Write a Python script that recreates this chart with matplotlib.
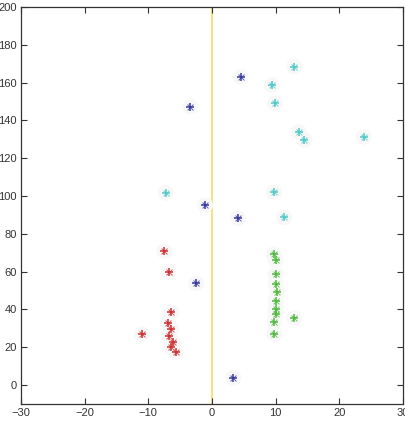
import matplotlib
matplotlib.use("Agg")
import matplotlib.pyplot as plt

red_x = [-7.5, -6.8, -6.4, -6.9, -6.4, -11.05, -6.75, -6.1, -6.4, -5.7]
red_y = [71.0, 59.9, 38.7, 33.1, 29.7, 26.9, 26.0, 22.8, 20.1, 17.7]

blue_x = [-3.4, 4.55, -1.1, 4.1, -2.5, 3.35]
blue_y = [147.3, 162.9, 95.1, 88.3, 53.9, 3.9]

cyan_x = [12.9, 9.4, 9.9, 13.6, 14.5, 23.8, -7.3, 9.7, 11.35]
cyan_y = [168.5, 158.7, 149.1, 133.9, 129.7, 131.3, 101.7, 101.9, 88.7]

green_x = [9.7, 10.0, 10.0, 10.0, 10.25, 10.0, 10.0, 10.0, 12.9, 9.8, 9.8]
green_y = [69.1, 66.1, 58.7, 53.4, 49.5, 44.5, 40.0, 37.6, 35.5, 33.2, 27.2]

line_x = [0, 0]
line_y = [-10, 200]

xticks = [-30, -20, -10, 0, 10, 20, 30]
yticks = [0, 20, 40, 60, 80, 100, 120, 140, 160, 180, 200]

plt.rcParams['font.family'] = ['Liberation Sans', 'DejaVu Sans']

fig = plt.figure(figsize=(4.06, 4.26), dpi=100)
ax = fig.add_axes([21/406, 22/426, 382/406, 397/426])

ax.plot(line_x, line_y, color='#f0e060', lw=1.2, zorder=1)

series = [
    (red_x, red_y, '#cc3030'),
    (blue_x, blue_y, '#3838a0'),
    (cyan_x, cyan_y, '#50c8c8'),
    (green_x, green_y, '#50b840'),
]
for xs, ys, c in series:
    ax.scatter(xs, ys, s=130, color='#f8f8f8', edgecolors='none', zorder=2)
    ax.scatter(xs, ys, s=40, marker='+', color=c, linewidths=1.1, zorder=3)
    ax.scatter(xs, ys, s=18, marker='x', color=c, linewidths=0.7, alpha=0.8, zorder=3)

ax.set_xlim(-30, 30)
ax.set_ylim(-10, 200)
ax.set_xticks(xticks)
ax.set_yticks(yticks)
ax.tick_params(direction='in', length=4, width=0.8, top=True, right=True,
               labelsize=8, colors='#333333', pad=3)
for s in ax.spines.values():
    s.set_color('#333333')
    s.set_linewidth(0.9)

fig.savefig('out.png', dpi=100)
